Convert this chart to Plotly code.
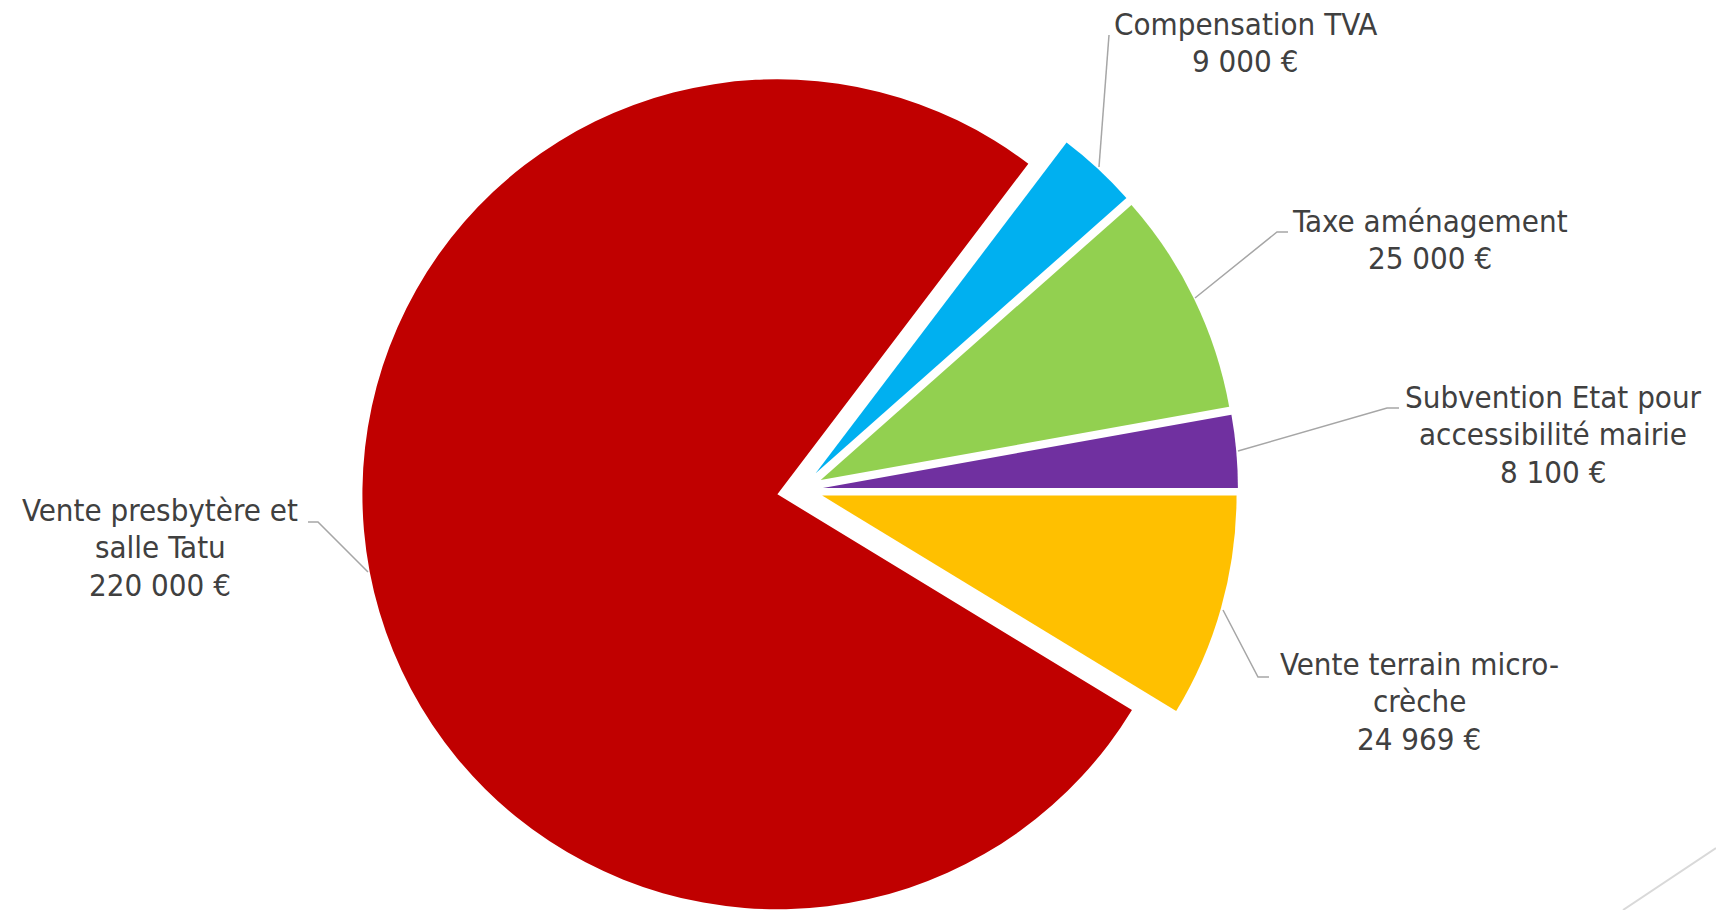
import numpy as np
import plotly.graph_objects as go

# ---- data (counter-clockwise from 3 o'clock) ----
labels = ["Subvention Etat pour accessibilité mairie", "Taxe aménagement",
          "Compensation TVA", "Vente presbytère et salle Tatu",
          "Vente terrain micro-crèche"]
values = [8100, 25000, 9000, 220000, 24969]
value_text = ["8 100 €", "25 000 €", "9 000 €", "220 000 €", "24 969 €"]
colors = ["#7030A0", "#92D050", "#00B0F0", "#C00000", "#FFC000"]

W, H = 1716, 910
CX, CY = 800.0, 490.0   # unexploded pie centre (px)
R = 415.0               # radius (px)
D = 23.0                # explosion distance (px)

def px(x):
    return x / W

def py(y):
    return 1 - y / H

vals = np.array(values, dtype=float)
frac = vals / vals.sum()
start = np.concatenate([[0], np.cumsum(frac)[:-1]]) * 360
mid = np.deg2rad(start + frac * 180)
# plotly: with counterclockwise, the first slice ends at `rotation`
rotation = 90 - frac[0] * 360

fig = go.Figure()
for i in range(len(values)):
    cx = CX + D * np.cos(mid[i])
    cy = CY - D * np.sin(mid[i])
    cols = ["rgba(0,0,0,0)"] * len(values)
    cols[i] = colors[i]
    fig.add_trace(go.Pie(
        labels=labels, values=values, sort=False,
        direction="counterclockwise", rotation=rotation,
        marker=dict(colors=cols, line=dict(width=0)),
        textinfo="none", hoverinfo="label+value",
        showlegend=False,
        domain=dict(x=[px(cx - R), px(cx + R)],
                    y=[max(0.0, py(cy + R)), min(1.0, py(cy - R))]),
    ))

font = dict(family="DejaVu Sans Condensed, DejaVu Sans", size=31, color="#404040")

# label lines: (text lines, centre x, first baseline)
label_layout = {
    0: (["Subvention Etat pour", "accessibilité mairie"], 1553, 409),
    1: (["Taxe aménagement"], 1430, 233),
    2: (["Compensation TVA"], 1245, 36),
    3: (["Vente presbytère et", "salle Tatu"], 160, 522),
    4: (["Vente terrain micro-", "crèche"], 1419, 676),
}
annotations = []
for i, (lines, x, b0) in label_layout.items():
    all_lines = lines + [value_text[i]]
    for k, t in enumerate(all_lines):
        annotations.append(dict(
            x=px(x), y=py(b0 + 37.3 * k - 12), xref="paper", yref="paper",
            text=t, showarrow=False, xanchor="center", yanchor="middle",
            font=font))

leaders = [
    [(1109, 35), (1099, 167)],
    [(1288, 232), (1277, 232), (1195, 298)],
    [(1399, 408), (1387, 408), (1238, 451)],
    [(1269, 677), (1258, 677), (1223, 610)],
    [(308, 522), (318, 522), (368, 572)],
]
shapes = []
for pts in leaders:
    path = "M " + " L ".join(f"{px(a):.5f},{py(b):.5f}" for a, b in pts)
    shapes.append(dict(type="path", path=path, xref="paper", yref="paper",
                       line=dict(color="#A6A6A6", width=1.5)))
shapes.append(dict(type="line", xref="paper", yref="paper",
                   x0=px(1623), y0=py(910), x1=px(1716), y1=py(848),
                   line=dict(color="#D9D9D9", width=2)))

fig.update_layout(
    width=W, height=H,
    margin=dict(l=0, r=0, t=0, b=0),
    paper_bgcolor="white", plot_bgcolor="white",
    annotations=annotations, shapes=shapes,
)

fig.write_html("out.html",
               config={"displayModeBar": False},
               post_script="document.body.style.margin='0px';"
                           "document.documentElement.style.overflow='hidden';")
